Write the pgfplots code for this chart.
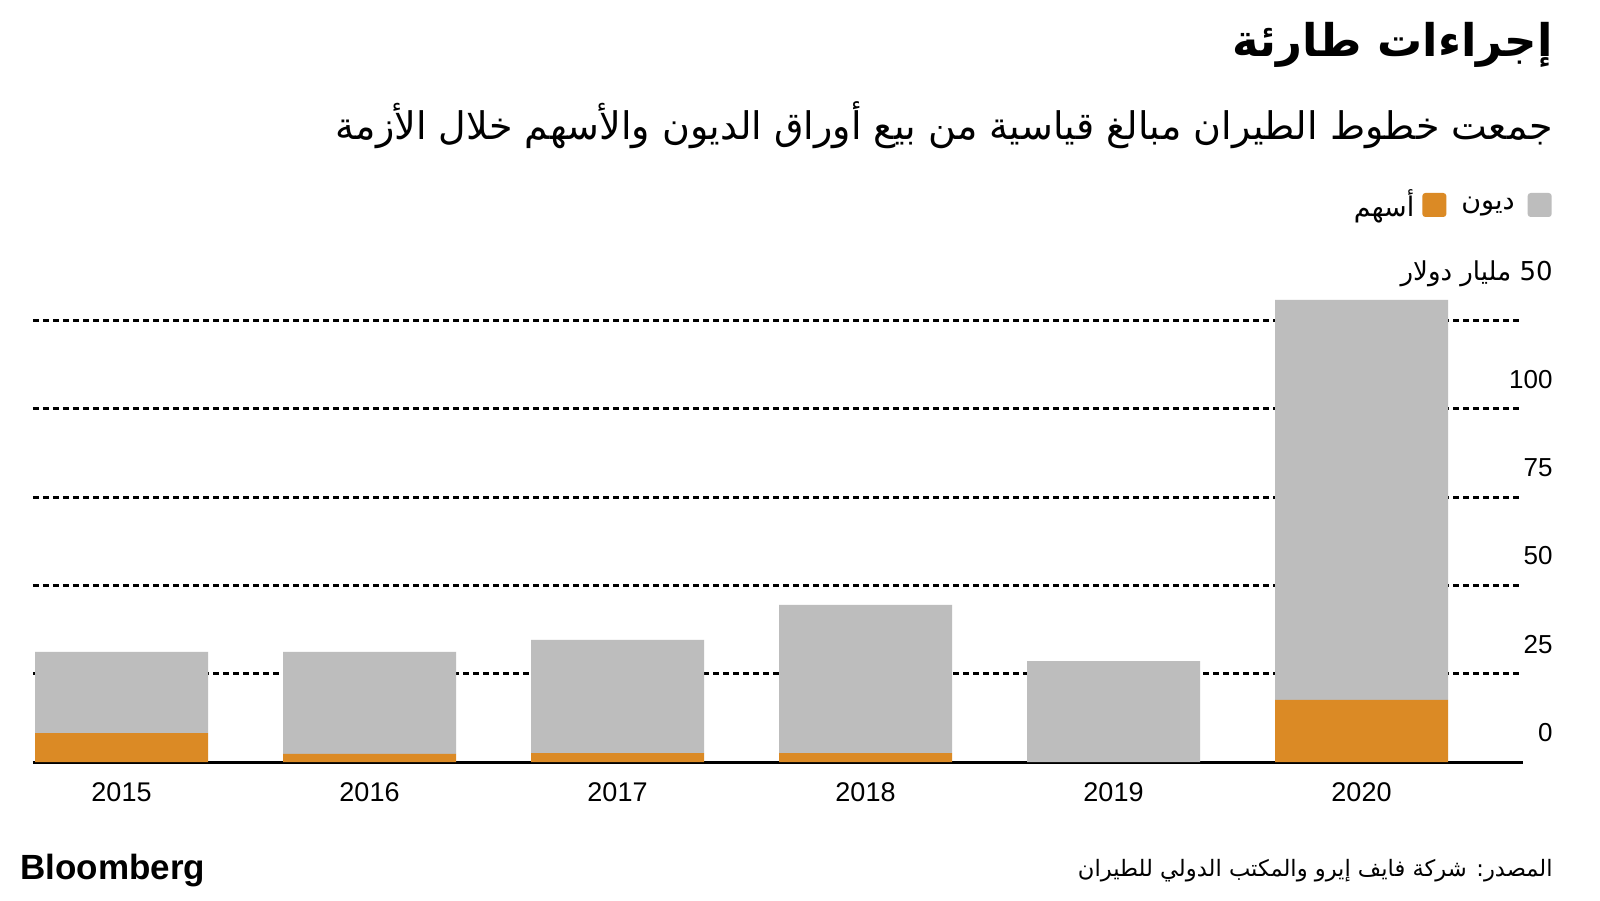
\documentclass[border=0pt]{standalone}
\usepackage{pgfplots}
\usepackage{pgfplotstable}
\pgfplotsset{compat=1.18}
\usepackage{fontspec}
\setmainfont{Liberation Sans}
\newfontfamily\arabicfont[Script=Arabic]{DejaVu Sans}
\TeXXeTstate=1
\definecolor{debtgrey}{HTML}{BDBDBD}
\definecolor{equityorange}{HTML}{DB8A25}

% x = year index, values in billion dollars
\pgfplotstableread{
x equity debt
0 8.2 23.0
1 2.3 28.9
2 2.5 32.1
3 2.5 42.0
4 0.0 28.6
5 17.6 113.3
}\raised

\begin{document}
\begin{tikzpicture}
\useasboundingbox (0pt,0pt) rectangle (800pt,450pt);
\fill[white] (0pt,0pt) rectangle (800pt,450pt);

% titles
\node[anchor=base east,inner sep=0pt] at (776.5pt,421.5pt)
  {\fontsize{22.5}{27}\selectfont\arabicfont\bfseries\beginR إجراءات طارئة\endR};
\node[anchor=base east,inner sep=0pt] at (776.5pt,380pt)
  {\fontsize{19}{22}\selectfont\arabicfont\beginR جمعت خطوط الطيران مبالغ قياسية من بيع أوراق الديون والأسهم خلال الأزمة\endR};

\begin{axis}[
  at={(16.5pt,69pt)}, anchor=south west,
  scale only axis,
  width=745pt, height=238.28pt,
  xmin=-0.3569, xmax=5.6512,
  ymin=0, ymax=135,
  ybar stacked, bar width=0.6976, bar shift=0pt,
  axis line style={draw=none},
  major tick length=0pt,
  tick style={draw=none},
  xtick={0,1,2,3,4,5},
  xticklabels={2015,2016,2017,2018,2019,2020},
  xticklabel style={anchor=north,inner sep=0pt,yshift=-10pt,font=\fontsize{13.5}{16}\selectfont},
  ytick={0,25,50,75,100,125},
  yticklabels={0,25,50,75,100,{\raisebox{10pt}{\arabicfont\beginR\beginL 50\endL{} مليار دولار\endR}}},
  yticklabel pos=right,
  yticklabel style={anchor=south east,inner sep=0pt,xshift=15pt,yshift=10pt,font=\fontsize{13}{16}\selectfont},
  ymajorgrids=true,
  grid style={black,line width=1.5pt,dash pattern=on 3pt off 2pt},
  legend plot pos=right,
  legend columns=-1,
  legend style={at={(1.0195,1.1688)},anchor=east,draw=none,fill=none,inner sep=0pt,
    nodes={inner sep=0pt},
    font=\fontsize{13.5}{16}\selectfont\arabicfont,
    /tikz/column 1/.style={column sep=4pt},
    /tikz/column 2/.style={column sep=7.5pt},
    /tikz/column 3/.style={column sep=6.5pt}},
  legend image code/.code={\fill[#1,rounded corners=1.5pt] (0pt,-6pt) rectangle (12pt,6pt);},
  clip=false,
]
\addplot[fill=equityorange,draw=none] table[x=x,y=equity] {\raised};
\addlegendentry{\beginR أسهم\endR}
\addplot[fill=debtgrey,draw=none] table[x=x,y=debt] {\raised};
\addlegendentry{\beginR ديون\endR}
\draw[black,line width=1.5pt] (rel axis cs:0,0) -- (rel axis cs:1,0);
\end{axis}

% footer
\node[anchor=base west,inner sep=0pt] at (10pt,10.5pt)
  {\fontsize{17.5}{20}\selectfont\bfseries Bloomberg};
\node[anchor=base east,inner sep=0pt] at (776.5pt,12pt)
  {\fontsize{11.3}{14}\selectfont\arabicfont\beginR المصدر: شركة فايف إيرو والمكتب الدولي للطيران\endR};
\end{tikzpicture}
\end{document}
